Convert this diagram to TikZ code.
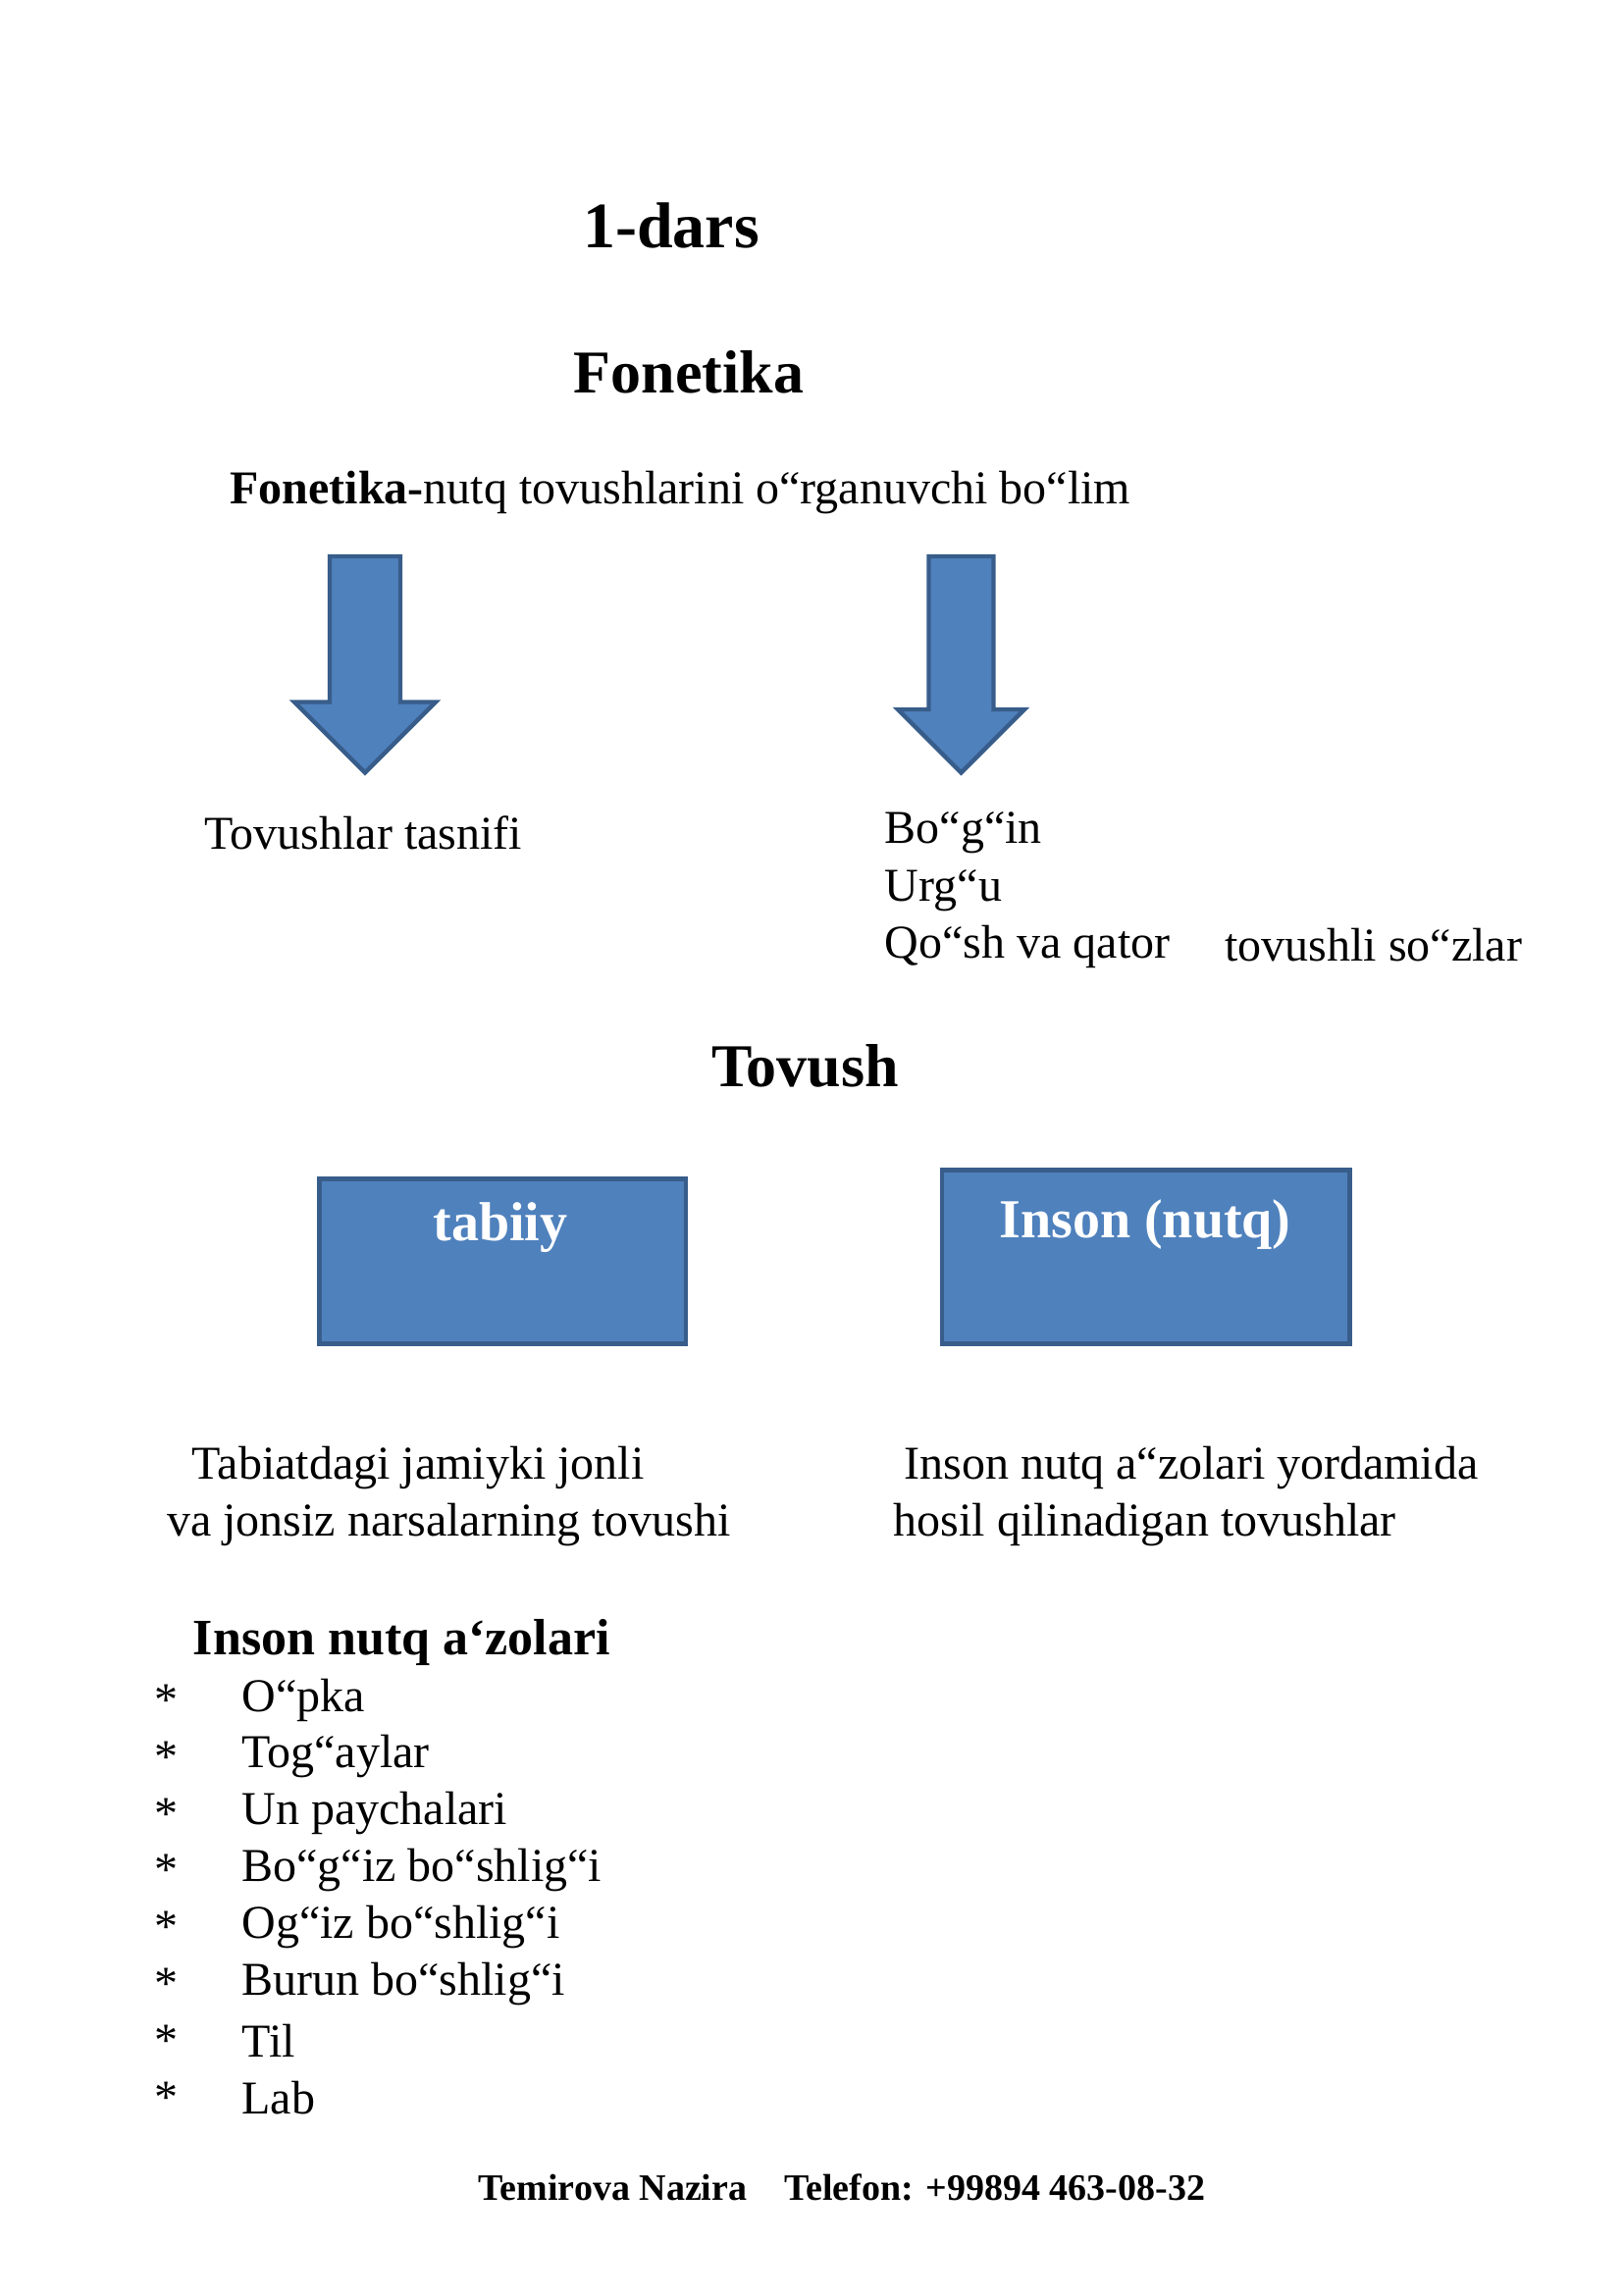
\documentclass[tikz,border=0pt]{standalone}
\usepackage{fontspec}
\setmainfont{Liberation Serif}
\definecolor{boxfill}{HTML}{4F81BD}
\definecolor{boxline}{HTML}{385D8A}
\begin{document}
\begin{tikzpicture}[x=0.75pt,y=-0.75pt,
  txt/.style={inner sep=0,font=\fontsize{24}{28}\selectfont},
  ttl/.style={inner sep=0,font=\fontsize{31}{36}\selectfont\bfseries},
  arr/.style={fill=boxfill,draw=boxline,line width=2.2pt,line join=miter},
  box/.style={fill=boxfill,draw=boxline,line width=2.2pt},
  boxtxt/.style={inner sep=0,text=white,font=\fontsize{28}{32}\selectfont\bfseries}]
\useasboundingbox (0,0) rectangle (1103.3,1559.3);
\node[ttl,font=\fontsize{33}{38}\selectfont\bfseries] (t1) at (456,153) {1-dars};
\node[ttl] (t2) at (468,253) {Fonetika};
\node[txt,anchor=west] (def) at (156,335) {\textbf{Fonetika-}nutq tovushlarini o“rganuvchi bo“lim};
\draw[arr] (224,378) -- (272,378) -- (272,477) -- (296,477) -- (248,525) -- (200,477) -- (224,477) -- cycle;
\draw[arr] (631,378) -- (675,378) -- (675,482) -- (696,482) -- (653,525) -- (610,482) -- (631,482) -- cycle;
\node[txt,anchor=west] (a1) at (139,566) {Tovushlar tasnifi};
\node[txt,anchor=west] (b1) at (601,566) {Bo“g“in};
\node[txt,anchor=west] (b2) at (601,605) {Urg“u};
\node[txt,anchor=west] (b3) at (601,643) {Qo“sh va qator};
\node[txt,anchor=base west] (b4) at (832,653) {tovushli so“zlar};
\node[ttl] (tv) at (547,724) {Tovush};
\path[box] (217,801) rectangle (466,913);
\node[boxtxt] (bt1) at (340,834) {tabiiy};
\path[box] (640,795) rectangle (917,913);
\node[boxtxt] (bt2) at (778,832) {Inson (nutq)};
\node[txt] (c1) at (284,997) {Tabiatdagi jamiyki jonli};
\node[txt] (c2) at (305,1036) {va jonsiz narsalarning tovushi};
\node[txt,anchor=west] (d1) at (614,997) {Inson nutq a“zolari yordamida};
\node[txt,anchor=west] (d2) at (607,1036) {hosil qilinadigan tovushlar};
\node[txt,font=\fontsize{26}{30}\selectfont\bfseries,anchor=west] (h) at (131,1116) {Inson nutq a‘zolari};
\foreach \t [count=\i] in {O“pka,Tog“aylar,Un paychalari,Bo“g“iz  bo“shlig“i,Og“iz bo“shlig“i,Burun bo“shlig“i,Til,Lab}{
  \node[txt] (s\i) at (113,{1155+38.6*(\i-1)}) {*};
  \node[txt,anchor=west] (l\i) at (164,{1155+38.6*(\i-1)}) {\t};
}
\node[inner sep=0,font=\fontsize{19}{22}\selectfont\bfseries] (f) at (572,1486) {Temirova Nazira\hspace{1em}Telefon: +99894 463-08-32};
\end{tikzpicture}
\end{document}
